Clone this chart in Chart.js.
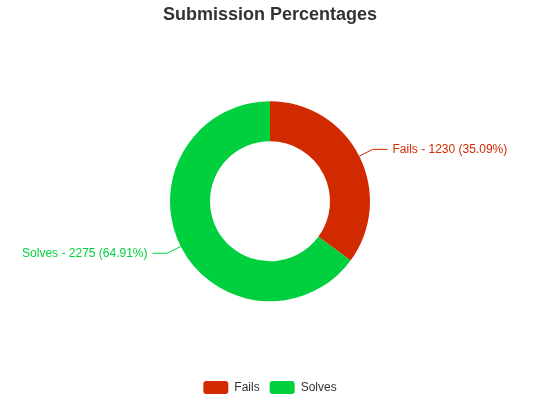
<!DOCTYPE html>
<html>
<head>
<meta charset="utf-8">
<script src="https://cdn.jsdelivr.net/npm/chart.js@4.4.1/dist/chart.umd.min.js"></script>
<style>
  html, body { margin: 0; padding: 0; background: #fff; }
  #wrap { width: 540px; height: 400px; }
</style>
</head>
<body>
<div id="wrap"><canvas id="subChart" width="540" height="400"></canvas></div>
<script>
// Data
const categories = ['Fails', 'Solves'];
const counts = [1230, 2275];
const sliceColors = ['#d12a00', '#00cf3e'];

const FONT = '"Liberation Sans", Arial, Helvetica, sans-serif';

// Outside labels with bent connector lines
const outsideLabels = {
  id: 'outsideLabels',
  afterLayout(chart) {
    // push the legend a little lower, like the reference
    if (chart.legend) {
      chart.legend.top += 4;
      chart.legend.bottom += 4;
    }
  },
  afterDatasetsDraw(chart) {
    const ctx = chart.ctx;
    const meta = chart.getDatasetMeta(0);
    const total = counts.reduce((a, b) => a + b, 0);
    ctx.save();
    ctx.font = '12px ' + FONT;
    ctx.textBaseline = 'middle';
    meta.data.forEach((arc, i) => {
      const p = arc.getProps(['x', 'y', 'startAngle', 'endAngle', 'outerRadius'], true);
      const mid = (p.startAngle + p.endAngle) / 2;
      const cos = Math.cos(mid), sin = Math.sin(mid);
      const x0 = p.x + cos * p.outerRadius, y0 = p.y + sin * p.outerRadius;
      const x1 = p.x + cos * (p.outerRadius + 15), y1 = p.y + sin * (p.outerRadius + 15);
      const right = cos >= 0;
      const x2 = p.x + (right ? 1 : -1) * (p.outerRadius + 17.5);
      ctx.strokeStyle = sliceColors[i];
      ctx.lineWidth = 1;
      ctx.beginPath();
      ctx.moveTo(x0, y0);
      ctx.lineTo(x1, y1);
      ctx.lineTo(x2, y1);
      ctx.stroke();
      const pct = (counts[i] / total * 100).toFixed(2);
      const text = categories[i] + ' - ' + counts[i] + ' (' + pct + '%)';
      ctx.fillStyle = sliceColors[i];
      ctx.textAlign = right ? 'left' : 'right';
      ctx.fillText(text, x2 + (right ? 5 : -5), y1);
    });
    ctx.restore();
  }
};

new Chart(document.getElementById('subChart'), {
  type: 'doughnut',
  data: {
    labels: categories,
    datasets: [{
      data: counts,
      backgroundColor: sliceColors,
      borderWidth: 0,
      radius: 100,
      cutout: '60%'
    }]
  },
  options: {
    responsive: false,
    devicePixelRatio: 1,
    animation: false,
    events: [],
    plugins: {
      title: {
        display: true,
        text: 'Submission Percentages',
        color: '#333333',
        font: { family: FONT, size: 18, weight: 'bold' },
        padding: { top: 4, bottom: 10 }
      },
      legend: {
        position: 'bottom',
        labels: {
          boxWidth: 25,
          boxHeight: 13,
          useBorderRadius: true,
          borderRadius: 3,
          padding: 10,
          color: '#333333',
          font: { family: FONT, size: 12 }
        }
      },
      tooltip: { enabled: false }
    }
  },
  plugins: [outsideLabels]
});
</script>
</body>
</html>
